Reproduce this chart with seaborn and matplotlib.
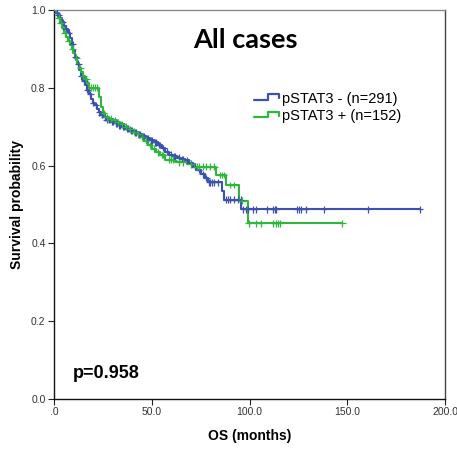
import numpy as np
import pandas as pd
import matplotlib
matplotlib.use("Agg")
import matplotlib.pyplot as plt
import seaborn as sns
from matplotlib.lines import Line2D
from matplotlib.legend_handler import HandlerBase

# Kaplan-Meier step points (time in months, survival)
neg_time = [0, 1, 2, 3, 4, 5, 6, 7, 8, 9, 10, 11, 12, 13, 14, 15, 16, 17, 18, 19,
            20, 21, 22, 23, 24, 25, 27, 29, 31, 33, 35, 37, 39, 41, 43, 45, 47, 49,
            51, 53, 55, 57, 59, 61, 63, 65, 67, 69, 71, 73, 75, 77, 79, 86, 87, 95.5]
neg_surv = [1.000, 0.993, 0.986, 0.979, 0.969, 0.959, 0.952, 0.941, 0.928, 0.912,
            0.897, 0.880, 0.862, 0.845, 0.829, 0.818, 0.806, 0.794, 0.783, 0.772,
            0.762, 0.755, 0.745, 0.737, 0.730, 0.724, 0.717, 0.713, 0.709, 0.704,
            0.700, 0.695, 0.690, 0.686, 0.680, 0.676, 0.670, 0.665, 0.660, 0.653,
            0.645, 0.636, 0.628, 0.624, 0.620, 0.617, 0.614, 0.606, 0.597, 0.589,
            0.578, 0.568, 0.557, 0.535, 0.512, 0.488]
neg_censor = [1.5, 2.5, 4.5, 6, 7.5, 9.5, 11, 12.5, 14, 15.5, 17, 18.5, 20, 21.5, 23,
              24.5, 26, 27, 28, 29.5, 30, 31.5, 32, 33.5, 34, 35.5, 36, 37.5, 38, 39.5,
              40, 41.5, 42, 43.5, 44, 45.5, 46, 47.5, 48, 49.5, 50, 51.5, 52, 53.5,
              54, 56, 58, 60, 61.5, 62, 64, 65.5, 66, 68, 70, 72, 74, 76, 78, 79.5,
              80, 81, 82, 84, 88, 89, 90, 92, 94, 95.4, 96.8, 98, 99.3, 101.9,
              103.1, 109, 112, 112.8, 113.3, 124.4, 125.3, 126.2, 128.7, 138.1,
              160.4, 187.2]

pos_time = [0, 1, 2, 3, 4, 5, 6, 7, 8, 9, 10, 11, 12, 13, 14, 15, 16, 17, 18, 23,
            24, 25, 26, 28, 30, 32, 34, 36, 38, 40, 42, 44, 46, 48, 50, 52, 54, 57,
            62, 68, 72, 83, 88, 94.5, 99]
pos_surv = [1.000, 0.993, 0.980, 0.966, 0.953, 0.940, 0.930, 0.921, 0.911, 0.900,
            0.890, 0.877, 0.864, 0.850, 0.840, 0.830, 0.822, 0.812, 0.800, 0.775,
            0.750, 0.735, 0.724, 0.720, 0.716, 0.712, 0.706, 0.700, 0.693, 0.687,
            0.680, 0.674, 0.664, 0.653, 0.643, 0.634, 0.627, 0.615, 0.608, 0.603,
            0.597, 0.576, 0.550, 0.510, 0.452]
pos_censor = [2.5, 3.5, 5.5, 7.5, 9.5, 11.5, 13.5, 15, 16.5, 19, 20, 21, 22, 25.5,
              27, 29, 31, 33, 35, 37, 39, 41, 43, 45, 47, 49, 51, 53, 55, 56, 59,
              60, 61, 64, 66, 70, 73, 74, 76, 78, 80, 82, 85, 86, 87, 90, 92, 96,
              99.6, 103.4, 106, 112.1, 113.3, 114.5, 115.5, 147.5]

groups = ["pSTAT3 - (n=291)", "pSTAT3 + (n=152)"]
colors = ["#3d52b0", "#2fb63c"]


def km_frame(times, surv, censor, label):
    # extend curve to the last follow-up time
    t = list(times) + [max(censor)]
    s = list(surv) + [surv[-1]]
    curve = pd.DataFrame({"time": t, "surv": s, "group": label})
    idx = np.searchsorted(times, censor, side="right") - 1
    marks = pd.DataFrame({"time": censor, "surv": np.array(surv)[idx], "group": label})
    return curve, marks


c1, m1 = km_frame(neg_time, neg_surv, neg_censor, groups[0])
c2, m2 = km_frame(pos_time, pos_surv, pos_censor, groups[1])
curves = pd.concat([c1, c2], ignore_index=True)
marks = pd.concat([m1, m2], ignore_index=True)
palette = dict(zip(groups, colors))

sns.set_theme(style="ticks")
plt.rcParams["font.family"] = ["Liberation Sans", "DejaVu Sans"]

fig = plt.figure(figsize=(4.57, 4.49), dpi=100)
ax = fig.add_axes([0.118, 0.111, 0.856, 0.867])

sns.lineplot(data=curves, x="time", y="surv", hue="group", palette=palette,
             drawstyle="steps-post", linewidth=1.5, sort=False, estimator=None,
             legend=False, ax=ax)
sns.scatterplot(data=marks, x="time", y="surv", hue="group", palette=palette,
                marker="+", s=24, linewidth=0.9, legend=False, ax=ax, zorder=3)

ax.set_xlim(0, 200)
ax.set_ylim(0, 1.0)
ax.set_xticks([0, 50, 100, 150, 200])
ax.set_xticklabels([".0", "50.0", "100.0", "150.0", "200.0"])
ax.set_yticks([0, 0.2, 0.4, 0.6, 0.8, 1.0])
ax.set_yticklabels(["0.0", "0.2", "0.4", "0.6", "0.8", "1.0"])
ax.tick_params(axis="both", labelsize=7.5, labelcolor="#333333", length=4,
               width=0.8, color="#222222", pad=2)
ax.set_xlabel("OS (months)", fontsize=10, fontweight="bold", labelpad=8, color="black")
ax.set_ylabel("Survival probability", fontsize=10, fontweight="bold", labelpad=5,
              color="black")

for side in ["left", "bottom"]:
    ax.spines[side].set_color("#111111")
    ax.spines[side].set_linewidth(1.0)
ax.spines["top"].set_color("#8a8a8a")
ax.spines["right"].set_color("#444444")
ax.spines["top"].set_linewidth(1.0)
ax.spines["right"].set_linewidth(1.0)

ax.text(0.49, 0.923, "All cases", transform=ax.transAxes, ha="center", va="center",
        fontsize=19.5, fontweight="bold", color="black", family=["Lato", "DejaVu Sans"])
ax.text(0.049, 0.067, "p=0.958", transform=ax.transAxes, ha="left", va="center",
        fontsize=13, fontweight="bold", color="black")


class StepHandler(HandlerBase):
    def create_artists(self, legend, orig_handle, xdescent, ydescent, width, height,
                       fontsize, trans):
        x0, w, h = -xdescent, width, height
        xs = [x0, x0 + 0.55 * w, x0 + 0.55 * w, x0 + w, x0 + w]
        ys = [0.3 * h, 0.3 * h, 0.85 * h, 0.85 * h, 0.45 * h]
        line = Line2D(xs, ys, color=orig_handle.get_color(), linewidth=1.6,
                      transform=trans)
        return [line]


handles = [Line2D([], [], color=c) for c in colors]
leg = ax.legend(handles, groups, loc="upper left", bbox_to_anchor=(0.512, 0.79),
                frameon=False, fontsize=10.5, handlelength=1.7, handletextpad=0.2,
                borderpad=0, borderaxespad=0, labelspacing=0.25,
                handler_map={Line2D: StepHandler()})
for txt in leg.get_texts():
    txt.set_color("black")

fig.savefig("out.png", dpi=100)
